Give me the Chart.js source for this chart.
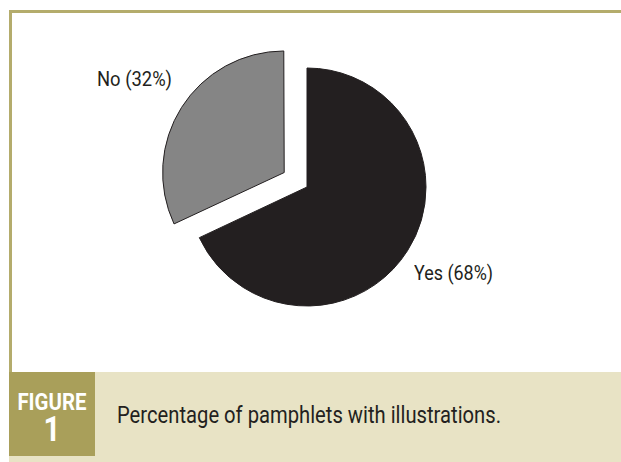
<!DOCTYPE html>
<html>
<head>
<meta charset="utf-8">
<script src="https://cdn.jsdelivr.net/npm/chart.js@4/dist/chart.umd.min.js"></script>
<style>
  html, body { margin: 0; padding: 0; background: #ffffff; }
  body { width: 621px; height: 462px; position: relative; overflow: hidden; }
  .abs { position: absolute; }
  #topline { left: 9px; top: 10px; width: 612px; height: 3px; background: #b4ac6c; }
  #leftline { left: 9px; top: 10px; width: 2.5px; height: 452px; background: #b4ac6c; }
  #band { left: 9px; top: 372px; width: 612px; height: 90px; background: #e8e3c5; }
  #figbox { left: 9px; top: 372px; width: 86px; height: 84px; background: #a99f5a; }
  .fit { display: inline-block; white-space: nowrap; }
  #figword { left: 9px; top: 390.5px; width: 86px; text-align: center; color: #ffffff;
             font: bold 23px/23px Roboto, "Liberation Sans", sans-serif; }
  #fignum { left: 9px; top: 412px; width: 86px; text-align: center; color: #ffffff;
            font: bold 35px/35px Roboto, "Liberation Sans", sans-serif; }
  #caption { left: 117px; top: 404px; color: #231f20;
             font: 23px/23px Roboto, "Liberation Sans", sans-serif; }
  .lbl { color: #231f20; font: 20px/20px Roboto, "Liberation Sans", sans-serif; }
  #chartbox { left: 150px; top: 40px; width: 314px; height: 294px; }
</style>
</head>
<body>
<div class="abs" id="topline"></div>
<div class="abs" id="leftline"></div>
<div class="abs" id="band"></div>
<div class="abs" id="figbox"></div>
<div class="abs" id="figword"><span class="fit" id="figwordT">FIGURE</span></div>
<div class="abs" id="fignum"><span class="fit" id="fignumT">1</span></div>
<div class="abs" id="caption"><span class="fit" id="captionT">Percentage of pamphlets with illustrations.</span></div>
<div class="abs lbl" id="lblYes"><span class="fit" id="lblYesT"></span></div>
<div class="abs lbl" id="lblNo"><span class="fit" id="lblNoT"></span></div>
<div class="abs" id="chartbox"><canvas id="c"></canvas></div>
<script>
const categories = ['Yes', 'No'];
const values = [68, 32];
const sliceColors = ['#231f20', '#858585'];

document.getElementById('lblYesT').textContent = categories[0] + ' (' + values[0] + '%)';
document.getElementById('lblNoT').textContent = categories[1] + ' (' + values[1] + '%)';
const lblYes = document.getElementById('lblYes');
lblYes.style.left = '414px'; lblYes.style.top = '263px';
const lblNo = document.getElementById('lblNo');
lblNo.style.left = '97px'; lblNo.style.top = '69px';

// condense text horizontally to the reference's condensed typeface widths
function fitWidth(id, target, origin) {
  const el = document.getElementById(id);
  const w = el.getBoundingClientRect().width;
  if (w > 0) {
    el.style.transformOrigin = origin;
    el.style.transform = 'scaleX(' + (target / w) + ')';
  }
}
fitWidth('captionT', 384, 'left center');
fitWidth('lblYesT', 79, 'left center');
fitWidth('lblNoT', 75, 'left center');
fitWidth('figwordT', 69, 'center center');
fitWidth('fignumT', 17, 'center center');

new Chart(document.getElementById('c'), {
  type: 'pie',
  data: {
    labels: categories,
    datasets: [{
      data: values,
      backgroundColor: sliceColors,
      borderColor: '#231f20',
      borderWidth: 1,
      offset: [0, 108]
    }]
  },
  options: {
    responsive: true,
    maintainAspectRatio: false,
    animation: false,
    radius: 119,
    layout: { padding: 0 },
    plugins: { legend: { display: false }, tooltip: { enabled: false } }
  }
});
</script>
</body>
</html>
